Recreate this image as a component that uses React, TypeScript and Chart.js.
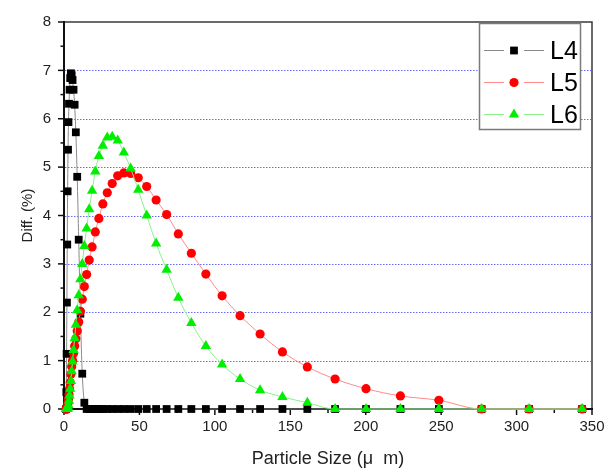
import { useEffect, useRef } from 'react';
import { Chart, registerables } from 'chart.js';

Chart.register(...registerables);

// Particle size bins (µm)
const SIZES = [
  1.39, 1.55, 1.73, 1.93, 2.15, 2.4, 2.67, 2.97, 3.31, 3.69, 4.11, 4.58, 5.1, 5.68, 6.33,
  7.05, 7.85, 8.75, 9.75, 10.86, 12.1, 13.48, 15.01, 16.72, 18.63, 20.75, 23.12, 25.75,
  28.69, 31.96, 35.6, 39.66, 44.18, 49.21, 54.82, 61.07, 68.03, 75.78, 84.42, 94.04,
  104.8, 116.7, 130.0, 144.8, 161.3, 179.7, 200.2, 223.0, 248.5, 276.8, 308.3, 343.4,
];

const L4 = [
  0, 0.35, 1.14, 2.2, 3.4, 4.5, 5.36, 5.93, 6.31, 6.6, 6.84, 6.94, 6.9, 6.8, 6.6,
  6.29, 5.72, 4.8, 3.5, 1.97, 0.73, 0.13, 0, 0, 0, 0, 0, 0,
  0, 0, 0, 0, 0, 0, 0, 0, 0, 0, 0, 0,
  0, 0, 0, 0, 0, 0, 0, 0, 0, 0, 0, 0,
];

const L5 = [
  0, 0, 0, 0, 0.02, 0.06, 0.12, 0.2, 0.3, 0.42, 0.55, 0.72, 0.88, 1.0, 1.15,
  1.3, 1.45, 1.61, 1.8, 2.02, 2.27, 2.53, 2.78, 3.08, 3.35, 3.66, 3.94, 4.24,
  4.47, 4.66, 4.82, 4.88, 4.87, 4.78, 4.6, 4.32, 4.02, 3.62, 3.22, 2.79,
  2.34, 1.93, 1.55, 1.18, 0.87, 0.62, 0.42, 0.27, 0.18, 0, 0, 0,
];

const L6 = [
  0, 0, 0, 0, 0, 0, 0.03, 0.08, 0.17, 0.28, 0.42, 0.58, 0.78, 0.98, 1.22,
  1.46, 1.74, 2.04, 2.35, 2.68, 3.0, 3.37, 3.73, 4.13, 4.51, 4.91, 5.23, 5.44,
  5.61, 5.63, 5.55, 5.3, 4.97, 4.53, 4.0, 3.42, 2.88, 2.3, 1.78, 1.3,
  0.92, 0.62, 0.39, 0.25, 0.13, 0, 0, 0, 0, 0, 0, 0,
];

const SERIES_NAMES = ['L4', 'L5', 'L6'];
const X_RANGE = [0, 350];
const Y_RANGE = [0, 8];
const X_STEP = 50;
const Y_STEP = 1;
const X_TITLE = 'Particle Size (μ  m)';
const Y_TITLE = 'Diff. (%)';

const FONT = '"Liberation Sans", Arial, Helvetica, sans-serif';
const LINE_COLORS = ['#8a8a8a', '#ff8a8a', '#8af08a'];
const MARK_COLORS = ['#000000', '#ff0000', '#00ee00'];
const MARK_STYLES = ['rect', 'circle', 'triangle'];
const MARK_RADII = [5.5, 4.6, 6];

function drawMarker(ctx: CanvasRenderingContext2D, style: string, x: number, y: number, r: number, color: string) {
  ctx.save();
  ctx.fillStyle = color;
  ctx.beginPath();
  if (style === 'rect') {
    const s = r * Math.SQRT1_2;
    ctx.rect(x - s, y - s, 2 * s, 2 * s);
  } else if (style === 'circle') {
    ctx.arc(x, y, r, 0, Math.PI * 2);
  } else {
    ctx.moveTo(x, y - r);
    ctx.lineTo(x + r * Math.sin(Math.PI / 3), y + r * 0.5);
    ctx.lineTo(x - r * Math.sin(Math.PI / 3), y + r * 0.5);
    ctx.closePath();
  }
  ctx.fill();
  ctx.restore();
}

const framePlugin = {
  id: 'frameAndGrid',
  beforeDatasetsDraw(chart: any) {
    const { ctx, chartArea } = chart;
    const xs = chart.scales.x;
    const ys = chart.scales.y;
    const { left, right, top, bottom } = chartArea;
    ctx.save();
    // blue dotted grid lines
    ctx.strokeStyle = '#6a6aff';
    ctx.lineWidth = 1;
    ctx.setLineDash([1.5, 1.5]);
    for (let v = Y_RANGE[0] + Y_STEP; v < Y_RANGE[1]; v += Y_STEP) {
      const y = Math.round(ys.getPixelForValue(v)) + 0.5;
      ctx.beginPath();
      ctx.moveTo(left + 1, y);
      ctx.lineTo(right - 1, y);
      ctx.stroke();
    }
    ctx.setLineDash([]);
    // top & right frame
    ctx.strokeStyle = '#3a3a3a';
    ctx.lineWidth = 1.5;
    ctx.beginPath();
    ctx.moveTo(left, top);
    ctx.lineTo(right, top);
    ctx.lineTo(right, bottom);
    ctx.stroke();
    // left & bottom axes
    ctx.strokeStyle = '#111';
    ctx.lineWidth = 2;
    ctx.beginPath();
    ctx.moveTo(left, top - 1);
    ctx.lineTo(left, bottom);
    ctx.lineTo(right + 1, bottom);
    ctx.stroke();
    // ticks
    ctx.lineWidth = 1.5;
    for (let v = Y_RANGE[0]; v <= Y_RANGE[1] + 1e-9; v += Y_STEP / 2) {
      const y = ys.getPixelForValue(v);
      const major = Math.abs(v - Math.round(v)) < 1e-6;
      ctx.beginPath();
      ctx.moveTo(left - (major ? 6 : 3.5), y);
      ctx.lineTo(left, y);
      ctx.stroke();
    }
    for (let v = X_RANGE[0]; v <= X_RANGE[1] + 1e-9; v += X_STEP / 2) {
      const x = xs.getPixelForValue(v);
      const major = Math.abs(v / X_STEP - Math.round(v / X_STEP)) < 1e-6;
      ctx.beginPath();
      ctx.moveTo(x, bottom);
      ctx.lineTo(x, bottom + (major ? 6 : 4));
      ctx.stroke();
    }
    ctx.restore();
  },
  afterDraw(chart: any) {
    const { ctx, chartArea } = chart;
    const { left, right, top, bottom } = chartArea;
    ctx.save();
    // axis titles
    ctx.fillStyle = '#222';
    ctx.font = `18px ${FONT}`;
    ctx.textAlign = 'center';
    ctx.textBaseline = 'alphabetic';
    ctx.fillText(X_TITLE, (left + right) / 2, 464);
    ctx.save();
    ctx.translate(31.5, (top + bottom) / 2);
    ctx.rotate(-Math.PI / 2);
    ctx.font = `15px ${FONT}`;
    ctx.fillText(Y_TITLE, 0, 0);
    ctx.restore();

    // legend box
    const bx = 479.5, by = 23.5, bw = 101, bh = 106;
    ctx.fillStyle = '#ffffff';
    ctx.fillRect(bx, by, bw, bh);
    ctx.strokeStyle = '#7a7a7a';
    ctx.lineWidth = 1.5;
    ctx.strokeRect(bx, by, bw, bh);
    SERIES_NAMES.forEach((name, i) => {
      const ry = 50 + i * 32;
      ctx.strokeStyle = LINE_COLORS[i];
      ctx.lineWidth = 1.2;
      ctx.beginPath();
      ctx.moveTo(484, ry + 0.5);
      ctx.lineTo(504, ry + 0.5);
      ctx.moveTo(524, ry + 0.5);
      ctx.lineTo(544, ry + 0.5);
      ctx.stroke();
      drawMarker(ctx, MARK_STYLES[i], 514, ry + 0.5, MARK_RADII[i], MARK_COLORS[i]);
      ctx.fillStyle = '#000';
      ctx.font = `25px ${FONT}`;
      ctx.textAlign = 'left';
      ctx.textBaseline = 'alphabetic';
      ctx.fillText(name, 550, ry + 9);
    });
    ctx.restore();
  },
};

export default function App() {
  const canvasRef = useRef<HTMLCanvasElement | null>(null);

  useEffect(() => {
    if (!canvasRef.current) return;
    const seriesValues = [L4, L5, L6];
    const datasets = SERIES_NAMES.map((name, i) => ({
      label: name,
      data: SIZES.map((x, k) => ({ x, y: seriesValues[i][k] })),
      borderColor: LINE_COLORS[i],
      borderWidth: 1,
      backgroundColor: MARK_COLORS[i],
      pointStyle: MARK_STYLES[i],
      pointRadius: MARK_RADII[i],
      pointBackgroundColor: MARK_COLORS[i],
      pointBorderColor: MARK_COLORS[i],
      pointBorderWidth: 0,
      cubicInterpolationMode: 'monotone',
      order: 3 - i,
      clip: false,
    }));

    const chart = new Chart(canvasRef.current, {
      type: 'line',
      data: { datasets: datasets as any },
      options: {
        animation: false,
        responsive: true,
        maintainAspectRatio: false,
        layout: { padding: { top: 16, right: 22, left: 0, bottom: 0 } },
        plugins: { legend: { display: false }, tooltip: { enabled: false } },
        scales: {
          x: {
            type: 'linear',
            min: X_RANGE[0],
            max: X_RANGE[1],
            grid: { display: false, drawTicks: false },
            border: { display: false },
            ticks: {
              stepSize: X_STEP,
              autoSkip: false,
              maxRotation: 0,
              padding: 9,
              color: '#222',
              font: { family: FONT, size: 15 },
            },
            afterFit(scale: any) {
              scale.height = 59;
            },
          },
          y: {
            type: 'linear',
            min: Y_RANGE[0],
            max: Y_RANGE[1],
            grid: { display: false, drawTicks: false },
            border: { display: false },
            ticks: {
              stepSize: Y_STEP,
              padding: 13,
              color: '#222',
              font: { family: FONT, size: 15 },
            },
            afterFit(scale: any) {
              scale.width = 64;
            },
          },
        },
      },
      plugins: [framePlugin],
    });
    return () => chart.destroy();
  }, []);

  return (
    <div style={{ position: 'fixed', left: 0, top: 0, width: 614, height: 468, background: '#fff' }}>
      <canvas ref={canvasRef} />
    </div>
  );
}
